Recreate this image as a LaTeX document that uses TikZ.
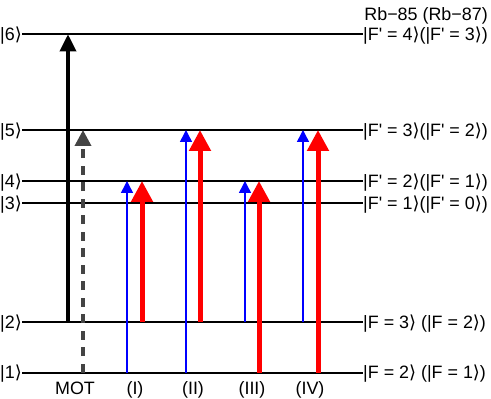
\documentclass[tikz,border=0pt]{standalone}
\usepackage{fontspec}
\setmainfont{Liberation Sans}[Ligatures=TeXOff]
\newfontfamily\angfont{DejaVu Sans}
\newcommand{\rk}{{\angfont ⟩}}
\usetikzlibrary{arrows.meta}
\definecolor{motgray}{HTML}{444444}

\begin{document}
\begin{tikzpicture}[
  x=1pt, y=1pt, font=\fontsize{17.9}{21}\selectfont,
  lvl/.style={line width=2pt},
  lbl/.style={inner sep=0pt, text height=12.6pt, text depth=0pt},
  cool/.style={-{Triangle[width=16pt,length=17pt]}, line width=3.5pt},
  repump/.style={-{Triangle[width=16pt,length=16pt]}, line width=3.5pt,
    motgray, dash pattern=on 9pt off 7.5pt},
  probe/.style={-{Triangle[width=12pt,length=12pt]}, blue, line width=1.5pt},
  pump/.style={-{Triangle[width=21pt,length=21pt]}, red, line width=5pt}]

\useasboundingbox (0,0) rectangle (491,399);

% ================================================================ levels
\foreach \i/\y in {1/26.3, 2/76.7, 3/195.7, 4/218, 5/269, 6/364.7}
  \node[lbl, anchor=east] (l\i) at (22,\y) {|\i\rk};

\node[lbl, anchor=west] (r6) at (363,364.7) {|F' = 4\rk(|F' = 3\rk)};
\node[lbl, anchor=west] (r5) at (363,269)   {|F' = 3\rk(|F' = 2\rk)};
\node[lbl, anchor=west] (r4) at (363,218)   {|F' = 2\rk(|F' = 1\rk)};
\node[lbl, anchor=west] (r3) at (363,195.7) {|F' = 1\rk(|F' = 0\rk)};
\node[lbl, anchor=west] (r2) at (363,76.7)  {|F = 3\rk\ (|F = 2\rk)};
\node[lbl, anchor=west] (r1) at (363,26.3)  {|F = 2\rk\ (|F = 1\rk)};
\node[anchor=base east, inner sep=0pt] (iso) at (488,378.3) {Rb−85 (Rb−87)};

\foreach \i in {1,...,6}
  \draw[lvl] (l\i.east) -- (r\i.west);

% ================================================================ MOT beams
\draw[cool] (68,0 |- l2.east) -- (68,0 |- l6.east);
\draw[repump] (83,0 |- l1.east) -- (83,0 |- l5.east);

% ================================================================ probe / pump pairs
\foreach \x/\a/\b in {127/1/4, 186/1/5, 245/2/4, 303/2/5}
  \draw[probe] (\x,0 |- l\a.east) -- (\x,0 |- l\b.east);
\foreach \x/\a/\b in {142/2/4, 200/2/5, 259/1/4, 318/1/5}
  \draw[pump] (\x,0 |- l\a.east) -- (\x,0 |- l\b.east);

% configuration names
\foreach \n/\t/\x in {mot/MOT/75, i/(I)/135, ii/(II)/193, iii/(III)/252, iv/(IV)/310}
  \node[anchor=base, inner sep=0pt] (c\n) at (\x,4) {\t};

\end{tikzpicture}
\end{document}
